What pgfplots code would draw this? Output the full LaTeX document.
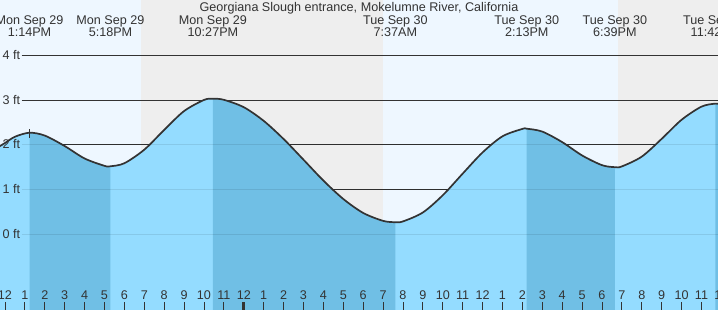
\documentclass[border=0pt]{standalone}
\usepackage{pgfplots}
\pgfplotsset{compat=1.18}
\usepgfplotslibrary{fillbetween}
\usepackage{pgfplotstable}
\usepackage{fontspec}
\setmainfont{Liberation Sans}
\definecolor{daybg}{RGB}{238,247,255}
\definecolor{nightbg}{RGB}{238,238,238}
\definecolor{tidelight}{RGB}{148,220,255}
\definecolor{tidedark}{RGB}{112,191,229}
\definecolor{curvec}{RGB}{51,51,51}
\definecolor{txt}{RGB}{51,51,51}
\newcommand{\fs}{\fontsize{12.6bp}{14bp}\selectfont}

% hours after noon Mon Sep 29, water level in ft
\pgfplotstableread{
h v
-0.3 1.96
0 2.04
0.5 2.18
1.233 2.27
2 2.206
3 1.972
4 1.694
5 1.530
5.3 1.52
6 1.588
7 1.891
8 2.333
9 2.754
10 3.002
10.45 3.03
11 3.005
12 2.840
13 2.535
14 2.129
15 1.667
16 1.200
17 0.789
18 0.477
19 0.300
19.617 0.27
20 0.288
21 0.488
22 0.873
23 1.356
24 1.830
25 2.190
26 2.355
26.217 2.36
27 2.295
28 2.060
29 1.762
30 1.545
30.65 1.50
31 1.517
32 1.736
33 2.133
34 2.559
35 2.853
35.7 2.92
36 2.91
}\tide

\begin{document}
\fs
\begin{tikzpicture}[font=\fs]
\begin{axis}[
  width=718bp, height=310bp, scale only axis,
  xmin=-0.251, xmax=35.83, ymin=-1.692, ymax=5.236,
  axis x line*=bottom, axis y line=none,
  axis line style={draw=none},
  axis on top,
  fill between/on layer=main,
  ytick=\empty,
  xtick={0,...,36},
  xticklabels={12,1,2,3,4,5,6,7,8,9,10,11,12,1,2,3,4,5,6,7,8,9,10,11,12,1,2,3,4,5,6,7,8,9,10,11,12},
  tick align=inside, major tick length=8bp,
  tick style={draw=curvec, line width=0.9bp},
  xticklabel style={anchor=base, yshift=10.5bp, text=txt, font=\fs},
  extra x ticks={12},
  extra x tick labels={},
  extra x tick style={tick style={line width=3bp}},
]
% day / night background
\addplot[fill=daybg, draw=none] coordinates {(-0.3,-1.8)(-0.3,5.3)(6.834,5.3)(6.834,-1.8)} -- cycle;
\addplot[fill=nightbg, draw=none] coordinates {(6.834,-1.8)(6.834,5.3)(19.0,5.3)(19.0,-1.8)} -- cycle;
\addplot[fill=daybg, draw=none] coordinates {(19.0,-1.8)(19.0,5.3)(30.80,5.3)(30.80,-1.8)} -- cycle;
\addplot[fill=nightbg, draw=none] coordinates {(30.80,-1.8)(30.80,5.3)(36.2,5.3)(36.2,-1.8)} -- cycle;
% grid lines
\pgfplotsinvokeforeach{0,1,2,3,4}{
  \addplot[draw=curvec, line width=1bp] coordinates {(0.83,#1)(36.2,#1)};
}
% tide
\addplot[name path=curve, draw=none, smooth] table[x=h,y=v] {\tide};
\addplot[name path=bottom, draw=none] coordinates {(-0.3,-1.8)(36,-1.8)};
\addplot[fill=tidelight, draw=none] fill between[of=curve and bottom];
\addplot[fill=tidedark, draw=none] fill between[of=curve and bottom, soft clip={domain=1.233:5.3}];
\addplot[fill=tidedark, draw=none] fill between[of=curve and bottom, soft clip={domain=10.45:19.617}];
\addplot[fill=tidedark, draw=none] fill between[of=curve and bottom, soft clip={domain=26.217:30.65}];
\addplot[fill=tidedark, draw=none] fill between[of=curve and bottom, soft clip={domain=35.7:36}];
\pgfplotsinvokeforeach{0,1,2}{
  \addplot[draw=black, opacity=0.09, line width=1bp] coordinates {(0.83,#1)(36.2,#1)};
}
\addplot[draw=curvec, line width=1.7bp, smooth] table[x=h,y=v] {\tide};
\addplot[draw=curvec, line width=0.9bp] coordinates {(1.233,2.346)(1.233,2.152)};
% y labels
\node[anchor=base west, yshift=-4bp, inner sep=0pt, text=txt] at (axis cs:-0.126,0) {0 ft};
\node[anchor=base west, yshift=-4bp, inner sep=0pt, text=txt] at (axis cs:-0.126,1) {1 ft};
\node[anchor=base west, yshift=-4bp, inner sep=0pt, text=txt] at (axis cs:-0.126,2) {2 ft};
\node[anchor=base west, yshift=-4bp, inner sep=0pt, text=txt] at (axis cs:-0.126,3) {3 ft};
\node[anchor=base west, yshift=-4bp, inner sep=0pt, text=txt] at (axis cs:-0.126,4) {4 ft};
% hour label just past the right edge (midnight Wed)
\node[anchor=base, inner sep=0pt, text=txt, yshift=10.5bp] at (axis cs:36,-1.692) {12};
% title and extreme labels
\node[anchor=base, inner sep=0pt, text=txt] at (axis cs:17.79,4.99) {Georgiana Slough entrance, Mokelumne River, California};
\node[anchor=base, inner sep=0pt, text=txt] at (axis cs:1.233,4.699) {Mon Sep 29};
\node[anchor=base, inner sep=0pt, text=txt] at (axis cs:1.233,4.43) {1:14PM};
\node[anchor=base, inner sep=0pt, text=txt] at (axis cs:5.3,4.699) {Mon Sep 29};
\node[anchor=base, inner sep=0pt, text=txt] at (axis cs:5.3,4.43) {5:18PM};
\node[anchor=base, inner sep=0pt, text=txt] at (axis cs:10.45,4.699) {Mon Sep 29};
\node[anchor=base, inner sep=0pt, text=txt] at (axis cs:10.45,4.43) {10:27PM};
\node[anchor=base, inner sep=0pt, text=txt] at (axis cs:19.617,4.699) {Tue Sep 30};
\node[anchor=base, inner sep=0pt, text=txt] at (axis cs:19.617,4.43) {7:37AM};
\node[anchor=base, inner sep=0pt, text=txt] at (axis cs:26.217,4.699) {Tue Sep 30};
\node[anchor=base, inner sep=0pt, text=txt] at (axis cs:26.217,4.43) {2:13PM};
\node[anchor=base, inner sep=0pt, text=txt] at (axis cs:30.65,4.699) {Tue Sep 30};
\node[anchor=base, inner sep=0pt, text=txt] at (axis cs:30.65,4.43) {6:39PM};
\node[anchor=base, inner sep=0pt, text=txt] at (axis cs:35.7,4.699) {Tue Sep 30};
\node[anchor=base, inner sep=0pt, text=txt] at (axis cs:35.7,4.43) {11:42PM};
\end{axis}
\pgfresetboundingbox
\useasboundingbox (0,0) rectangle (718bp,310bp);
\end{tikzpicture}
\end{document}
